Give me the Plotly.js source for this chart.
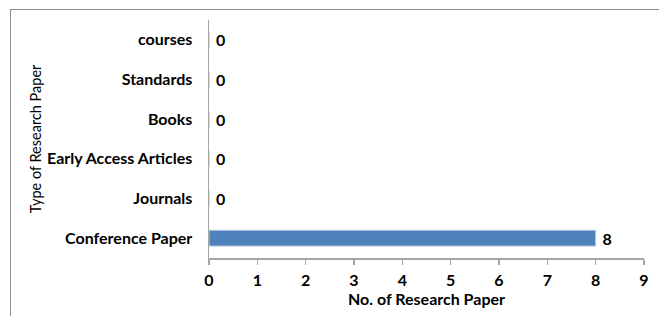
<!DOCTYPE html>
<html>
<head>
<meta charset="utf-8">
<script src="https://cdn.plot.ly/plotly-3.0.1.min.js"></script>
<style>
html,body{margin:0;padding:0;background:#fff;}
#frame{position:absolute;left:10px;top:9px;width:660px;height:320px;border-top:1.5px solid #8c8c8c;border-left:1.5px solid #8c8c8c;}
#chart{position:absolute;left:0;top:0;width:659px;height:316px;}
</style>
</head>
<body>
<div id="frame"></div>
<div id="chart"></div>
<script>
var categories = ["Conference Paper", "Journals", "Early Access Articles", "Books", "Standards", "courses"];
var values = [8, 0, 0, 0, 0, 0];
var xTicks = [0, 1, 2, 3, 4, 5, 6, 7, 8, 9];

var fontFam = "Lato, 'Open Sans', sans-serif";

var trace = {
  type: "bar",
  orientation: "h",
  y: categories,
  x: values,
  width: 0.4,
  marker: {color: "#4f81bd", line: {color: "#b9cde5", width: 1}},
  texttemplate: "\u00a0%{x}",
  textposition: "outside",
  constraintext: "none",
  cliponaxis: false,
  textfont: {family: fontFam, size: 16, color: "#000", weight: 700},
  hoverinfo: "none"
};

var layout = {
  width: 659, height: 316,
  margin: {l: 208.5, r: 15, t: 20, b: 58},
  paper_bgcolor: "rgba(0,0,0,0)",
  plot_bgcolor: "rgba(0,0,0,0)",
  showlegend: false,
  bargap: 0.6,
  font: {family: fontFam, size: 16, color: "#000"},
  xaxis: {
    range: [0, 9],
    tickvals: xTicks,
    ticktext: xTicks.map(String),
    showgrid: false, zeroline: false,
    showline: true, linecolor: "#a6a6a6", linewidth: 1.5,
    ticks: "outside", ticklen: 5, tickcolor: "#a6a6a6", tickwidth: 1.5,
    ticklabelstandoff: 2,
    tickfont: {family: fontFam, size: 16, color: "#000", weight: 700},
    title: {text: "No. of Research Paper", font: {family: fontFam, size: 16, color: "#000", weight: 700}, standoff: 0},
    automargin: false,
    fixedrange: true
  },
  yaxis: {
    categoryorder: "array",
    categoryarray: categories,
    showgrid: false, zeroline: false,
    showline: true, linecolor: "#a6a6a6", linewidth: 1.5,
    ticks: "",
    ticklabelstandoff: 12,
    tickfont: {family: fontFam, size: 16, color: "#000", weight: 700},
    title: {text: "Type of Research Paper", font: {family: fontFam, size: 14.5, color: "#000"}, standoff: 2},
    automargin: false,
    fixedrange: true
  }
};

Plotly.newPlot("chart", [trace], layout, {displayModeBar: false, staticPlot: true});
</script>
</body>
</html>
